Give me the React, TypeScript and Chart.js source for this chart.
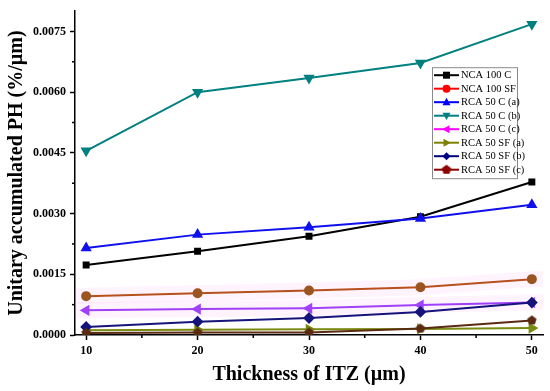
import React, { useEffect, useRef } from "react";
import { Chart, registerables } from "chart.js";

Chart.register(...registerables);

const thickness = [10, 20, 30, 40, 50];
const xTickValues = [10, 20, 30, 40, 50];
const xMinorTicks = [15, 25, 35, 45];
const yTickValues = [0, 0.0015, 0.003, 0.0045, 0.006, 0.0075];
const yMinorTicks = [0.00075, 0.00225, 0.00375, 0.00525, 0.00675];

const nca100C = [0.00173, 0.00207, 0.00244, 0.00292, 0.00378];
const nca100SF = [0.00096, 0.00103, 0.0011, 0.00118, 0.00138];
const rca50Ca = [0.00215, 0.00248, 0.00266, 0.00288, 0.00322];
const rca50Cb = [0.00455, 0.006, 0.00635, 0.00672, 0.00768];
const rca50Cc = [0.00061, 0.00064, 0.00066, 0.00074, 0.0008];
const rca50SFa = [0.00012, 0.00013, 0.00014, 0.00015, 0.00017];
const rca50SFb = [0.0002, 0.00033, 0.00042, 0.00057, 0.0008];
const rca50SFc = [0.00005, 0.00006, 0.00006, 0.00016, 0.00036];

const seriesNames = [
  "NCA 100 C",
  "NCA 100 SF",
  "RCA 50 C (a)",
  "RCA 50 C (b)",
  "RCA 50 C (c)",
  "RCA 50 SF (a)",
  "RCA 50 SF (b)",
  "RCA 50 SF (c)",
];

function makePentagon(color: string, r: number) {
  const c = document.createElement("canvas");
  const s = r * 2 + 2;
  c.width = s;
  c.height = s;
  const ctx = c.getContext("2d")!;
  ctx.fillStyle = color;
  ctx.beginPath();
  for (let i = 0; i < 5; i++) {
    const a = -Math.PI / 2 + (i * 2 * Math.PI) / 5;
    const px = s / 2 + r * Math.cos(a);
    const py = s / 2 + r * Math.sin(a);
    if (i === 0) ctx.moveTo(px, py);
    else ctx.lineTo(px, py);
  }
  ctx.closePath();
  ctx.fill();
  return c;
}

export default function App() {
  const ref = useRef<HTMLCanvasElement>(null);

  useEffect(() => {
    const pent = makePentagon("#5a2a12", 5);
    const pentLegend = makePentagon("#8b0000", 5);

    const toPts = (arr: number[]) => thickness.map((x, i) => ({ x, y: arr[i] }));

    const styles = [
      { line: "#000000", point: "#000000", style: "rect", rot: 0, legend: "#000000", r: 3.5 },
      { line: "#b8501e", point: "#9a5520", style: "circle", rot: 0, legend: "#ff0000", r: 4 },
      { line: "#1010ee", point: "#1010ee", style: "triangle", rot: 0, legend: "#0000ff", r: 4.5 },
      { line: "#008080", point: "#008080", style: "triangle", rot: 180, legend: "#008080", r: 4.5 },
      { line: "#a040f8", point: "#a040f8", style: "triangle", rot: 270, legend: "#ff00ff", r: 4.5 },
      { line: "#7a8a10", point: "#7a8a10", style: "triangle", rot: 90, legend: "#808000", r: 4.5 },
      { line: "#14147a", point: "#14147a", style: "rectRot", rot: 0, legend: "#000080", r: 4.5 },
      { line: "#5a2a12", point: "#5a2a12", style: pent as any, rot: 0, legend: "#8b0000", r: 5 },
    ];
    const dataArrs = [nca100C, nca100SF, rca50Ca, rca50Cb, rca50Cc, rca50SFa, rca50SFb, rca50SFc];

    const datasets: any[] = dataArrs.map((arr, i) => ({
      label: seriesNames[i],
      data: toPts(arr),
      borderColor: styles[i].line,
      backgroundColor: styles[i].point,
      pointBackgroundColor: styles[i].point,
      pointBorderColor: styles[i].point,
      pointStyle: styles[i].style,
      rotation: styles[i].rot,
      pointRadius: styles[i].r,
      borderWidth: 2,
      tension: 0,
    }));
    datasets.forEach((d, i) => (d.order = 8 - i));

    const glowPlugin = {
      id: "glow",
      beforeDatasetsDraw(chart: any) {
        const ctx = chart.ctx;
        const ca = chart.chartArea;
        ctx.save();
        ctx.beginPath();
        ctx.rect(ca.left, ca.top, ca.right - ca.left, ca.bottom - ca.top);
        ctx.clip();
        ctx.strokeStyle = "rgba(255, 120, 230, 0.09)";
        ctx.lineWidth = 16;
        ctx.lineJoin = "round";
        [1, 4].forEach((idx) => {
          const meta = chart.getDatasetMeta(idx);
          ctx.beginPath();
          meta.data.forEach((p: any, j: number) => {
            if (j === 0) ctx.moveTo(p.x - 15, p.y);
            else ctx.lineTo(p.x, p.y);
          });
          const last = meta.data[meta.data.length - 1];
          ctx.lineTo(last.x + 15, last.y);
          ctx.stroke();
        });
        ctx.restore();
      },
    };

    const axisExtras = {
      id: "axisExtras",
      afterDraw(chart: any) {
        const ctx = chart.ctx;
        const xs = chart.scales.x;
        const ys = chart.scales.y;
        ctx.save();
        ctx.strokeStyle = "#000";
        ctx.lineWidth = 1.5;
        xMinorTicks.forEach((v) => {
          const px = xs.getPixelForValue(v);
          ctx.beginPath();
          ctx.moveTo(px, ys.bottom);
          ctx.lineTo(px, ys.bottom + 3);
          ctx.stroke();
        });
        yMinorTicks.forEach((v) => {
          const py = ys.getPixelForValue(v);
          ctx.beginPath();
          ctx.moveTo(xs.left, py);
          ctx.lineTo(xs.left - 3, py);
          ctx.stroke();
        });

        // legend
        const lx = chart.chartArea.right - 111;
        const ly = chart.chartArea.top + 56;
        const w = 85;
        const rowH = 13.5;
        const h = rowH * 8 + 3;
        ctx.fillStyle = "#fff";
        ctx.fillRect(lx, ly, w, h);
        ctx.strokeStyle = "#8a8a8a";
        ctx.lineWidth = 1;
        ctx.strokeRect(lx + 0.5, ly + 0.5, w, h);
        ctx.font = "10.5px 'Liberation Serif'";
        ctx.textBaseline = "middle";
        styles.forEach((s, i) => {
          const cy = ly + 8 + i * rowH;
          ctx.strokeStyle = s.legend;
          ctx.lineWidth = 2;
          ctx.beginPath();
          ctx.moveTo(lx + 2, cy);
          ctx.lineTo(lx + 27, cy);
          ctx.stroke();
          ctx.fillStyle = s.legend;
          const cx = lx + 14.5;
          const r = 4;
          ctx.save();
          ctx.translate(cx, cy);
          ctx.beginPath();
          if (i === 0) {
            ctx.rect(-3.5, -3.5, 7, 7);
          } else if (i === 1) {
            ctx.arc(0, 0, r, 0, Math.PI * 2);
          } else if (i >= 2 && i <= 5) {
            ctx.rotate((s.rot * Math.PI) / 180);
            ctx.moveTo(0, -r * 1.1);
            ctx.lineTo(r, r * 0.75);
            ctx.lineTo(-r, r * 0.75);
            ctx.closePath();
          } else if (i === 6) {
            ctx.moveTo(0, -r);
            ctx.lineTo(r, 0);
            ctx.lineTo(0, r);
            ctx.lineTo(-r, 0);
            ctx.closePath();
          } else {
            ctx.drawImage(pentLegend, -6, -6);
          }
          ctx.fill();
          ctx.restore();
          ctx.fillStyle = "#000";
          ctx.fillText(seriesNames[i], lx + 29, cy + 0.5);
        });
        ctx.restore();
      },
    };

    const chart = new Chart(ref.current!, {
      type: "line",
      data: { datasets },
      options: {
        animation: false,
        responsive: false,
        layout: { padding: { top: 7, right: 7, left: 0, bottom: 0 } },
        plugins: {
          legend: { display: false },
          tooltip: { enabled: false },
        },
        scales: {
          x: {
            type: "linear",
            min: 9,
            max: 51,
            afterBuildTicks: (s: any) => {
              s.ticks = xTickValues.map((v) => ({ value: v }));
            },
            afterFit: (s: any) => {
              s.height = 56;
            },
            grid: {
              drawOnChartArea: false,
              drawTicks: true,
              tickLength: 5,
              tickWidth: 1.5,
              tickColor: "#000",
            },
            border: { display: true, color: "#000", width: 1.5 },
            ticks: {
              color: "#000",
              padding: 4,
              font: { family: "'Liberation Serif'", size: 12, weight: "bold" },
              callback: (v: any) => String(v),
            },
            title: {
              display: true,
              text: "Thickness of ITZ (µm)",
              color: "#000",
              font: { family: "'Liberation Serif'", size: 20, weight: "bold" },
              padding: { top: 0, bottom: 4 },
            },
          },
          y: {
            type: "linear",
            min: 0,
            max: 0.008,
            afterBuildTicks: (s: any) => {
              s.ticks = yTickValues.map((v) => ({ value: v }));
            },
            afterFit: (s: any) => {
              s.width = 75;
            },
            grid: {
              drawOnChartArea: false,
              drawTicks: true,
              tickLength: 5,
              tickWidth: 1.5,
              tickColor: "#000",
            },
            border: { display: true, color: "#000", width: 1.5 },
            ticks: {
              color: "#000",
              padding: 4,
              font: { family: "'Liberation Serif'", size: 12, weight: "bold" },
              callback: (v: any) => Number(v).toFixed(4),
            },
            title: {
              display: true,
              text: "Unitary accumulated PH (%/µm)",
              color: "#000",
              font: { family: "'Liberation Serif'", size: 20, weight: "bold" },
              padding: { top: 5, bottom: 0 },
            },
          },
        },
      },
      plugins: [glowPlugin, axisExtras],
    });
    return () => chart.destroy();
  }, []);

  return (
    <div style={{ position: "absolute", left: 0, top: 0, width: 550, height: 391, background: "#fff" }}>
      <canvas ref={ref} width={550} height={391} />
    </div>
  );
}
